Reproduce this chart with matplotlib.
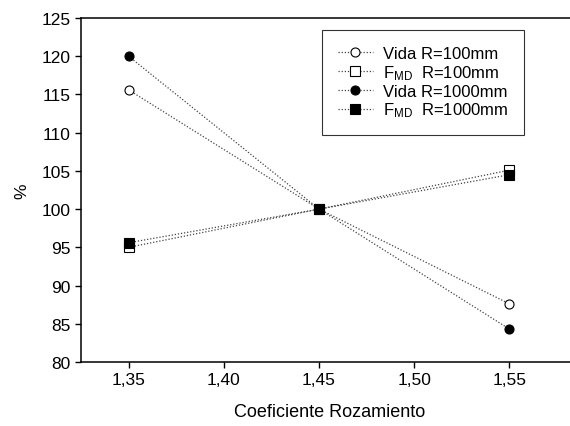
import matplotlib
matplotlib.use("Agg")
import matplotlib.pyplot as plt

plt.rcParams['font.family'] = ['Liberation Sans', 'DejaVu Sans']
plt.rcParams['mathtext.fontset'] = 'custom'
plt.rcParams['mathtext.rm'] = 'Liberation Sans'
plt.rcParams['mathtext.it'] = 'Liberation Sans'

# data
coef = [1.35, 1.45, 1.55]
vida_r100 = [115.6, 100.0, 87.6]
fmd_r100 = [95.0, 100.0, 105.1]
vida_r1000 = [120.0, 100.0, 84.3]
fmd_r1000 = [95.6, 100.0, 104.5]
xtick_labels = ["1,35", "1,40", "1,45", "1,50", "1,55"]

fig = plt.figure(figsize=(5.7, 4.27), dpi=100)
ax = fig.add_axes([0.1421, 0.1499, 0.872, 0.8056])

style = dict(ls=(0, (1, 1.5)), lw=0.9, color="#444444", markersize=6.5,
             markeredgecolor="black", markeredgewidth=0.8)
ax.plot(coef, vida_r100, marker="o", mfc="white", label="Vida R=100mm", **style)
ax.plot(coef, fmd_r100, marker="s", mfc="white", label=r"F$_{\rm MD}$  R=100mm", **style)
ax.plot(coef, vida_r1000, marker="o", mfc="black", label="Vida R=1000mm", **style)
ax.plot(coef, fmd_r1000, marker="s", mfc="black", label=r"F$_{\rm MD}$  R=1000mm", **style)

ax.set_xlim(1.325, 1.586)
ax.set_ylim(80, 125)
ax.set_xticks([1.35, 1.40, 1.45, 1.50, 1.55])
ax.set_xticklabels(xtick_labels)
ax.set_yticks(range(80, 126, 5))
ax.tick_params(direction="out", length=4, width=1, labelsize=12.5, top=False, right=False)
ax.spines["right"].set_visible(False)
for s in ["left", "bottom", "top"]:
    ax.spines[s].set_linewidth(1.1)

ax.set_xlabel("Coeficiente Rozamiento", fontsize=13, labelpad=11)
ax.set_ylabel("%", fontsize=12.5, labelpad=9)

leg = ax.legend(loc="upper left", bbox_to_anchor=(0.485, 0.965), borderaxespad=0,
                fontsize=12, frameon=True, fancybox=False, edgecolor="black",
                handlelength=2.1, borderpad=0.95, labelspacing=0.12, handletextpad=0.6)
leg.get_frame().set_linewidth(0.8)

fig.savefig("out.png", dpi=100)
